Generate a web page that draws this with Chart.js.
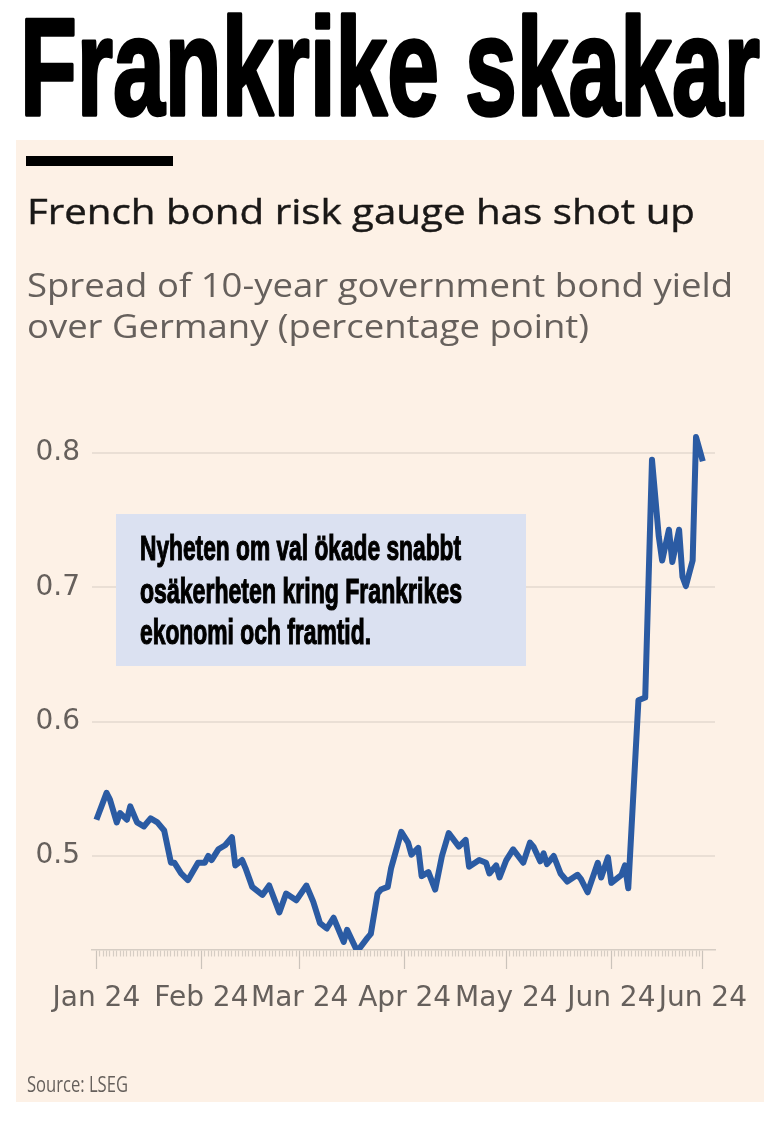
<!DOCTYPE html>
<html>
<head>
<meta charset="utf-8">
<script src="https://cdn.jsdelivr.net/npm/chart.js@4.4.1/dist/chart.umd.min.js"></script>
<style>
  html, body { margin:0; padding:0; background:#fff; }
  #page { position:relative; width:778px; height:1122px; overflow:hidden; background:#fff; }
  #panel { position:absolute; left:16px; top:140px; width:748px; height:962px; background:#fdf1e6; }
  #chartWrap { position:absolute; left:16px; top:370px; width:746px; height:680px; }
  #overlay { position:absolute; left:0; top:0; }
</style>
</head>
<body>
<div id="page">
  <div id="panel"></div>
  <div id="chartWrap"><canvas id="spreadChart" width="746" height="680"></canvas></div>
  <svg id="overlay" width="778" height="1122" xmlns="http://www.w3.org/2000/svg">
    <text x="20" y="115" font-family="Liberation Sans" font-weight="700" font-size="139" fill="#000"
          stroke="#000" stroke-width="3.5" stroke-linejoin="round"
          textLength="740" lengthAdjust="spacingAndGlyphs">Frankrike skakar</text>
    <rect x="26" y="156" width="147" height="10" fill="#000"/>
    <text x="27" y="224" font-family="Open Sans" font-size="34" fill="#1a1817" stroke="#1a1817" stroke-width="0.4"
          textLength="668" lengthAdjust="spacingAndGlyphs">French bond risk gauge has shot up</text>
    <text x="27" y="297" font-family="Open Sans" font-size="33" fill="#66605c"
          textLength="706" lengthAdjust="spacingAndGlyphs">Spread of 10-year government bond yield</text>
    <text x="27" y="338" font-family="Open Sans" font-size="33" fill="#66605c"
          textLength="562" lengthAdjust="spacingAndGlyphs">over Germany (percentage point)</text>

    <rect x="116" y="514" width="410" height="152" fill="#dbe1f1"/>
    <g font-family="Liberation Sans" font-weight="700" font-size="35" fill="#000" stroke="#000" stroke-width="1.2">
      <text x="140" y="560" textLength="321" lengthAdjust="spacingAndGlyphs">Nyheten om val ökade snabbt</text>
      <text x="140" y="603" textLength="322" lengthAdjust="spacingAndGlyphs">osäkerheten kring Frankrikes</text>
      <text x="140" y="644" textLength="231" lengthAdjust="spacingAndGlyphs">ekonomi och framtid.</text>
    </g>

    <text x="27" y="1092" font-family="Open Sans" font-size="22" fill="#66605c"
          textLength="101" lengthAdjust="spacingAndGlyphs">Source: LSEG</text>
  </svg>
</div>

<script>
// day offset from 1 Jan 2024
const days = [
  0, 3, 4, 6, 7, 9, 10, 12, 14, 16, 18, 20, 22, 23, 25, 27, 30, 32, 33, 34,
  36, 38, 40, 41, 43, 44, 46, 49, 51, 54, 56, 59, 62, 64, 66, 68, 70, 73, 74, 77,
  80, 81, 83, 84, 86, 87, 90, 92, 93, 95, 96, 98, 100, 102, 104, 107, 109, 110, 113, 115,
  116, 118, 119, 121, 123, 126, 128, 129, 131, 132, 133, 135, 137, 139, 142, 143, 145, 148, 149, 151,
  152, 155, 156, 157, 160, 162, 164, 166, 167, 169, 170, 172, 173, 174, 176, 177, 179
];

// spread, percentage points
const spread = [
  0.527, 0.547, 0.542, 0.525, 0.532, 0.527, 0.537, 0.525, 0.522, 0.528,
  0.525, 0.519, 0.495, 0.495, 0.487, 0.482, 0.495, 0.495, 0.500, 0.497,
  0.505, 0.508, 0.514, 0.493, 0.497, 0.491, 0.477, 0.471, 0.478, 0.458,
  0.472, 0.467, 0.478, 0.466, 0.450, 0.446, 0.454, 0.436, 0.445, 0.429,
  0.439, 0.442, 0.472, 0.475, 0.477, 0.491, 0.518, 0.510, 0.501, 0.506,
  0.485, 0.488, 0.475, 0.500, 0.517, 0.507, 0.512, 0.492, 0.497, 0.495,
  0.487, 0.493, 0.484, 0.497, 0.505, 0.495, 0.510, 0.507, 0.496, 0.502,
  0.494, 0.500, 0.487, 0.481, 0.486, 0.483, 0.473, 0.495, 0.484, 0.499,
  0.480, 0.486, 0.493, 0.476, 0.616, 0.618, 0.795, 0.738, 0.720, 0.743,
  0.719, 0.743, 0.708, 0.701, 0.720, 0.812, 0.794
];

const monthDays = [0, 31, 60, 91, 121, 152, 179];
const monthLabels = ["Jan 24", "Feb 24", "Mar 24", "Apr 24", "May 24", "Jun 24", "Jun 24"];
const yTicks = [0.5, 0.6, 0.7, 0.8];
const lastDay = 179;

const axisFont = { family: "DejaVu Sans", size: 28 };
const labelColor = "#66605c";

function isMonthTick(v){
  return monthDays.includes(v);
}

const points = days.map((d, i) => ({ x: d, y: spread[i] }));

const ctx = document.getElementById("spreadChart");
new Chart(ctx, {
  type: "line",
  data: {
    datasets: [{
      label: "Spread",
      data: points,
      borderColor: "#2b5ba3",
      borderWidth: 6,
      pointRadius: 0,
      tension: 0,
      borderJoinStyle: "round",
      fill: false
    }]
  },
  options: {
    responsive: false,
    animation: false,
    devicePixelRatio: 1,
    layout: { padding: { left: 0, right: 47, top: 16, bottom: 0 } },
    plugins: { legend: { display: false }, tooltip: { enabled: false } },
    scales: {
      x: {
        type: "linear",
        min: -1.3,
        max: 182.6,
        afterBuildTicks: (s) => {
          const t = [];
          for(let d=0; d<=lastDay; d++) t.push({ value: d });
          s.ticks = t;
        },
        afterFit: (s) => { s.height = 100; s.paddingLeft = 0; s.paddingRight = 0; },
        ticks: {
          autoSkip: false,
          maxRotation: 0,
          padding: 13,
          color: labelColor,
          font: axisFont,
          callback: (v) => {
            const i = monthDays.indexOf(v);
            return i >= 0 ? monthLabels[i] : "";
          }
        },
        grid: {
          drawOnChartArea: false,
          drawTicks: true,
          tickLength: 19,
          tickWidth: 1.2,
          tickColor: (c) => isMonthTick(c.tick && c.tick.value) ? "#cbc3bb" : "#d6cdc4",
          tickBorderDash: (c) => isMonthTick(c.tick && c.tick.value) ? [] : [6, 40]
        },
        border: { display: true, color: "#d6cdc4", width: 1.5 }
      },
      y: {
        min: 0.43,
        max: 0.85,
        afterBuildTicks: (s) => { s.ticks = yTicks.map(v => ({ value: v })); },
        afterFit: (s) => { s.width = 76; s.paddingTop = 0; s.paddingBottom = 0; },
        ticks: {
          padding: 12,
          color: labelColor,
          font: axisFont,
          callback: (v) => v.toFixed(1)
        },
        grid: { drawTicks: false, color: "#eadfd5", lineWidth: 2 },
        border: { display: false }
      }
    }
  }
});
</script>
</body>
</html>
